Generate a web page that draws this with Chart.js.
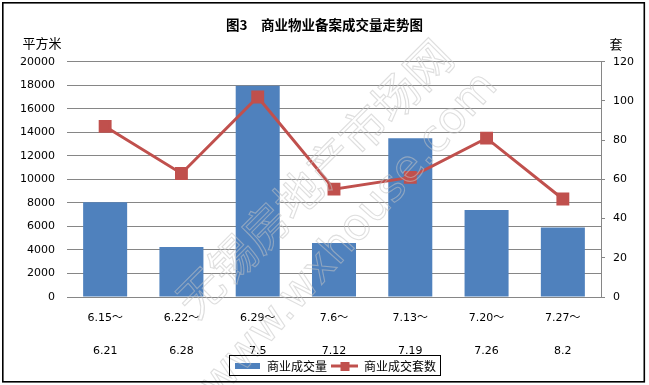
<!DOCTYPE html>
<html>
<head>
<meta charset="utf-8">
<script src="https://cdn.jsdelivr.net/npm/chart.js@4.4.1/dist/chart.umd.min.js"></script>
<style>
  html, body { margin: 0; padding: 0; background: #fff; }
  canvas { display: block; }
</style>
</head>
<body>
<canvas id="chart" width="649" height="385"></canvas>
<script>
// 数据
const weekStart = ['6.15～', '6.22～', '6.29～', '7.6～', '7.13～', '7.20～', '7.27～'];
const weekEnd = ['6.21', '6.28', '7.5', '7.12', '7.19', '7.26', '8.2'];
const areaValues = [8050, 4250, 17950, 4600, 13500, 7400, 5900];   // 商业成交量 (平方米)
const unitValues = [87, 63, 102, 55, 61, 81, 50];                   // 商业成交套数 (套)
const seriesNames = ['商业成交量', '商业成交套数'];
const chartTitle = '图3　商业物业备案成交量走势图';
const leftUnit = '平方米';
const rightUnit = '套';
const watermark = ['无锡房地产市场网', 'www.wxhouse.com'];

const BLUE = '#4F81BD';
const RED = '#C0504D';
const GRID = '#868686';
const LATIN = "'DejaVu Sans', 'Noto Sans CJK SC', sans-serif";
const CJK = "'Noto Sans CJK SC', 'DejaVu Sans', sans-serif";

// 图例小图标
function legendIcon(kind) {
    const c = document.createElement('canvas');
    const g = c.getContext('2d');
    if (kind === 'bar') {
        c.width = 25; c.height = 6;
        g.fillStyle = BLUE;
        g.fillRect(0, 0, 25, 6);
    } else {
        c.width = 27; c.height = 9;
        g.strokeStyle = RED;
        g.lineWidth = 3;
        g.beginPath(); g.moveTo(0, 4.5); g.lineTo(27, 4.5); g.stroke();
        g.fillStyle = RED;
        g.fillRect(9, 0, 9, 9);
    }
    return c;
}

const decorations = {
    id: 'decorations',
    afterLayout(chart) {
        // x 轴标签有两行，放宽裁剪区域
        const x = chart.scales.x;
        x.bottom += 14;
        x.height += 14;
        // 图例稍微右移、下移
        const lg = chart.legend;
        lg.left += 11; lg.right += 11;
        lg.top += 3; lg.bottom += 3;
    },
    beforeDraw(chart) {
        const ctx = chart.ctx;
        ctx.save();
        ctx.fillStyle = '#fff';
        ctx.fillRect(0, 0, chart.width, chart.height);
        ctx.restore();
    },
    afterDraw(chart) {
        const ctx = chart.ctx;
        ctx.save();
        // 单位
        ctx.fillStyle = '#000';
        ctx.font = '13px ' + CJK;
        ctx.textAlign = 'center';
        ctx.textBaseline = 'middle';
        ctx.fillText(leftUnit, 42, 43);
        ctx.fillText(rightUnit, 616, 44);

        // 水印
        ctx.strokeStyle = 'rgba(195,195,195,0.55)';
        ctx.lineWidth = 1.1;
        ctx.save();
        ctx.translate(314, 178);
        ctx.rotate(-Math.PI / 4);
        ctx.font = '46px ' + CJK;
        ctx.strokeText(watermark[0], 0, 0);
        ctx.restore();
        ctx.save();
        ctx.translate(350, 236);
        ctx.rotate(-0.84);
        ctx.font = '44px ' + LATIN;
        ctx.strokeText(watermark[1], 0, 0);
        ctx.restore();

        // 图例边框
        const boxes = chart.legend.legendHitBoxes;
        if (boxes && boxes.length) {
            const l = Math.min(...boxes.map(b => b.left));
            const r = Math.max(...boxes.map(b => b.left + b.width));
            const t = Math.min(...boxes.map(b => b.top));
            const b2 = Math.max(...boxes.map(b => b.top + b.height));
            ctx.strokeStyle = '#000';
            ctx.lineWidth = 1;
            ctx.strokeRect(Math.round(l) - 5.5, Math.round(t) - 4.5, Math.round(r - l) + 10, Math.round(b2 - t) + 8);
        }

        // 外框
        ctx.strokeStyle = '#000';
        ctx.lineWidth = 1.6;
        ctx.strokeRect(2.8, 2.8, 641.5, 379);
        ctx.restore();
    }
};

new Chart(document.getElementById('chart'), {
    data: {
        labels: weekStart.map((s, i) => [s, weekEnd[i]]),
        datasets: [
            {
                type: 'bar',
                label: seriesNames[0],
                data: areaValues,
                yAxisID: 'y',
                backgroundColor: BLUE,
                barPercentage: 0.577,
                categoryPercentage: 1,
                order: 2
            },
            {
                type: 'line',
                label: seriesNames[1],
                data: unitValues,
                yAxisID: 'y1',
                borderColor: RED,
                backgroundColor: RED,
                borderWidth: 3,
                tension: 0,
                pointStyle: 'rect',
                pointRadius: 7,
                pointHoverRadius: 7,
                pointBackgroundColor: RED,
                pointBorderColor: RED,
                order: 1
            }
        ]
    },
    options: {
        responsive: false,
        devicePixelRatio: 1,
        animation: false,
        layout: { padding: { top: 0, left: 0, right: 0, bottom: 6 } },
        plugins: {
            title: {
                display: true,
                text: chartTitle,
                color: '#000',
                font: { family: CJK, size: 13.5, weight: 'bold', lineHeight: 1.2 },
                padding: { top: 17, bottom: 28.5 }
            },
            legend: {
                position: 'bottom',
                labels: {
                    usePointStyle: true,
                    pointStyleWidth: 26,
                    boxHeight: 12,
                    padding: 5,
                    color: '#000',
                    font: { family: CJK, size: 12 },
                    generateLabels: () => [
                        { text: seriesNames[0], pointStyle: legendIcon('bar'), fillStyle: BLUE, strokeStyle: BLUE, lineWidth: 0, hidden: false, datasetIndex: 0 },
                        { text: seriesNames[1], pointStyle: legendIcon('line'), fillStyle: RED, strokeStyle: RED, lineWidth: 0, hidden: false, datasetIndex: 1 }
                    ]
                }
            },
            tooltip: { enabled: false }
        },
        scales: {
            x: {
                grid: { display: false },
                border: { display: true, color: GRID, width: 1 },
                ticks: {
                    color: '#000',
                    padding: -3,
                    maxRotation: 0,
                    autoSkip: false,
                    font: { family: LATIN, size: 11, lineHeight: 3 }
                },
                afterFit: s => { s.height = 55; }
            },
            y: {
                position: 'left',
                min: 0,
                max: 20000,
                grid: { color: GRID, drawTicks: false },
                border: { display: false },
                ticks: {
                    stepSize: 2000,
                    padding: 12,
                    color: '#000',
                    font: { family: LATIN, size: 11 },
                    callback: v => String(v)
                },
                afterFit: s => { s.width = 67; }
            },
            y1: {
                position: 'right',
                min: 0,
                max: 120,
                grid: { drawOnChartArea: false, color: GRID, tickLength: 4 },
                border: { display: true, color: GRID },
                ticks: {
                    stepSize: 20,
                    padding: 8,
                    color: '#000',
                    font: { family: LATIN, size: 11 },
                    callback: v => String(v)
                },
                afterFit: s => { s.width = 48; }
            }
        }
    },
    plugins: [decorations]
});
</script>
</body>
</html>
